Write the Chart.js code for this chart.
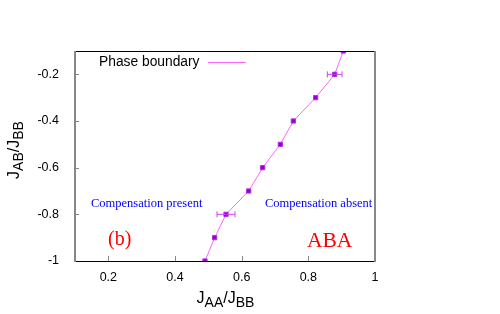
<!DOCTYPE html>
<html>
<head>
<meta charset="utf-8">
<script src="https://cdn.jsdelivr.net/npm/chart.js@4/dist/chart.umd.min.js"></script>
<style>
  html, body { margin: 0; padding: 0; background: #fff; }
  #wrap { width: 500px; height: 314px; }
</style>
</head>
<body>
<div id="wrap"><canvas id="myChart" width="500" height="314"></canvas></div>
<script>
"use strict"

// J_AB/J_BB values (rows) and the boundary J_AA/J_BB
const jabValues = [-1, -0.9, -0.8, -0.7, -0.6, -0.5, -0.4, -0.3, -0.2, -0.1];
const jaaValues = [0.49, 0.519, 0.553, 0.621, 0.663, 0.716, 0.755, 0.822, 0.879, 0.905];
const jaaErrors = [0, 0, 0.027, 0, 0, 0, 0, 0, 0.022, 0];

const xTickValues = [0.2, 0.4, 0.6, 0.8, 1];
const xTickLabels = ['0.2', '0.4', '0.6', '0.8', '1'];
const yTickValues = [-1, -0.8, -0.6, -0.4, -0.2];
const yTickLabels = ['-1', '-0.8', '-0.6', '-0.4', '-0.2'];

const lineColor = '#ff66ff';
const pointColor = '#9400d3';
const tickFont = { family: 'Liberation Sans', size: 12.5 };

const points = jaaValues.map((x, i) => ({ x: x, y: jabValues[i] }));

// x error bars, drawn through the scales
const errorBars = {
  id: 'errorBars',
  afterDatasetsDraw(chart) {
    const ctx = chart.ctx;
    const xs = chart.scales.x;
    const ys = chart.scales.y;
    ctx.save();
    ctx.strokeStyle = '#cc44ee';
    ctx.lineWidth = 1;
    jaaValues.forEach((x, i) => {
      if (!jaaErrors[i]) return;
      const x0 = xs.getPixelForValue(x - jaaErrors[i]);
      const x1 = xs.getPixelForValue(x + jaaErrors[i]);
      const y = ys.getPixelForValue(jabValues[i]);
      ctx.beginPath();
      ctx.moveTo(x0, y); ctx.lineTo(x1, y);
      ctx.moveTo(x0, y - 3); ctx.lineTo(x0, y + 3);
      ctx.moveTo(x1, y - 3); ctx.lineTo(x1, y + 3);
      ctx.stroke();
    });
    ctx.restore();
  }
};

function drawSubTitle(ctx, parts, x, y, center) {
  // parts: [text, isSub]
  const big = '16px Liberation Sans';
  const small = '14px Liberation Sans';
  let width = 0;
  parts.forEach(p => { ctx.font = p[1] ? small : big; width += ctx.measureText(p[0]).width; });
  let cx = center ? x - width / 2 : x;
  parts.forEach(p => {
    ctx.font = p[1] ? small : big;
    ctx.fillText(p[0], cx, p[1] ? y + 4 : y);
    cx += ctx.measureText(p[0]).width;
  });
}

const frame = {
  id: 'frame',
  afterDraw(chart) {
    const ctx = chart.ctx;
    const a = chart.chartArea;
    const xs = chart.scales.x;
    const ys = chart.scales.y;
    ctx.save();
    // inward ticks
    ctx.strokeStyle = '#888';
    ctx.lineWidth = 1;
    xTickValues.forEach(v => {
      const px = Math.round(xs.getPixelForValue(v)) + 0.5;
      ctx.beginPath(); ctx.moveTo(px, a.bottom); ctx.lineTo(px, a.bottom - 5); ctx.stroke();
    });
    yTickValues.forEach(v => {
      const py = Math.round(ys.getPixelForValue(v)) + 0.5;
      ctx.beginPath(); ctx.moveTo(a.left, py); ctx.lineTo(a.left + 4, py); ctx.stroke();
    });
    // border: black top/bottom, grey sides
    ctx.strokeStyle = '#000';
    ctx.beginPath();
    ctx.moveTo(a.left, a.top + 0.5); ctx.lineTo(a.right, a.top + 0.5);
    ctx.moveTo(a.left, a.bottom + 0.5); ctx.lineTo(a.right, a.bottom + 0.5);
    ctx.stroke();
    ctx.strokeStyle = '#888';
    ctx.lineWidth = 2;
    ctx.beginPath();
    ctx.moveTo(a.left, a.top); ctx.lineTo(a.left, a.bottom + 1);
    ctx.moveTo(a.right, a.top); ctx.lineTo(a.right, a.bottom + 1);
    ctx.stroke();

    // legend
    ctx.fillStyle = '#000';
    ctx.font = '13.8px Liberation Sans';
    ctx.textBaseline = 'middle';
    ctx.textAlign = 'left';
    ctx.fillText('Phase boundary', 99, 62);
    ctx.strokeStyle = lineColor;
    ctx.lineWidth = 1;
    ctx.beginPath(); ctx.moveTo(208, 62.5); ctx.lineTo(246, 62.5); ctx.stroke();

    // annotations
    ctx.fillStyle = '#0000ff';
    ctx.font = '12.5px Liberation Serif';
    ctx.fillText('Compensation present', 91, 204);
    ctx.fillText('Compensation absent', 265, 204);
    ctx.fillStyle = '#ff0000';
    ctx.font = '20px Liberation Serif';
    ctx.fillText('(b)', 108, 240);
    ctx.font = '21.5px Liberation Serif';
    ctx.fillText('ABA', 307, 241);

    // axis titles
    ctx.fillStyle = '#000';
    ctx.textBaseline = 'alphabetic';
    drawSubTitle(ctx, [['J', false], ['AA', true], ['/J', false], ['BB', true]], 225.5, 303, true);
    ctx.translate(19, 150);
    ctx.rotate(-Math.PI / 2);
    drawSubTitle(ctx, [['J', false], ['AB', true], ['/J', false], ['BB', true]], 0, 0, true);
    ctx.restore();
  }
};

const ctx = document.getElementById('myChart').getContext('2d');
const myChart = new Chart(ctx, {
  type: 'scatter',
  data: {
    datasets: [{
      label: 'Phase boundary',
      data: points,
      showLine: true,
      borderColor: lineColor,
      borderWidth: 1,
      pointStyle: 'rect',
      pointRadius: 3,
      pointBackgroundColor: pointColor,
      pointBorderColor: '#b030e8',
      pointBorderWidth: 1
    }]
  },
  options: {
    responsive: false,
    animation: false,
    layout: { padding: { top: 51, right: 125, left: 0, bottom: 0 } },
    plugins: { legend: { display: false }, tooltip: { enabled: false } },
    scales: {
      x: {
        type: 'linear',
        min: 0.1,
        max: 1,
        afterBuildTicks: s => { s.ticks = xTickValues.map(v => ({ value: v })); },
        afterFit: s => { s.height = 53; },
        ticks: {
          color: '#000',
          font: tickFont,
          padding: 1,
          maxRotation: 0,
          callback: (v) => xTickLabels[xTickValues.indexOf(v)]
        },
        grid: { display: false },
        border: { display: false }
      },
      y: {
        type: 'linear',
        min: -1,
        max: -0.1,
        afterBuildTicks: s => { s.ticks = yTickValues.map(v => ({ value: v })); },
        afterFit: s => { s.width = 75; },
        ticks: {
          color: '#000',
          font: tickFont,
          padding: 8,
          callback: (v) => yTickLabels[yTickValues.indexOf(v)]
        },
        grid: { display: false },
        border: { display: false }
      }
    }
  },
  plugins: [errorBars, frame]
});
</script>
</body>
</html>
